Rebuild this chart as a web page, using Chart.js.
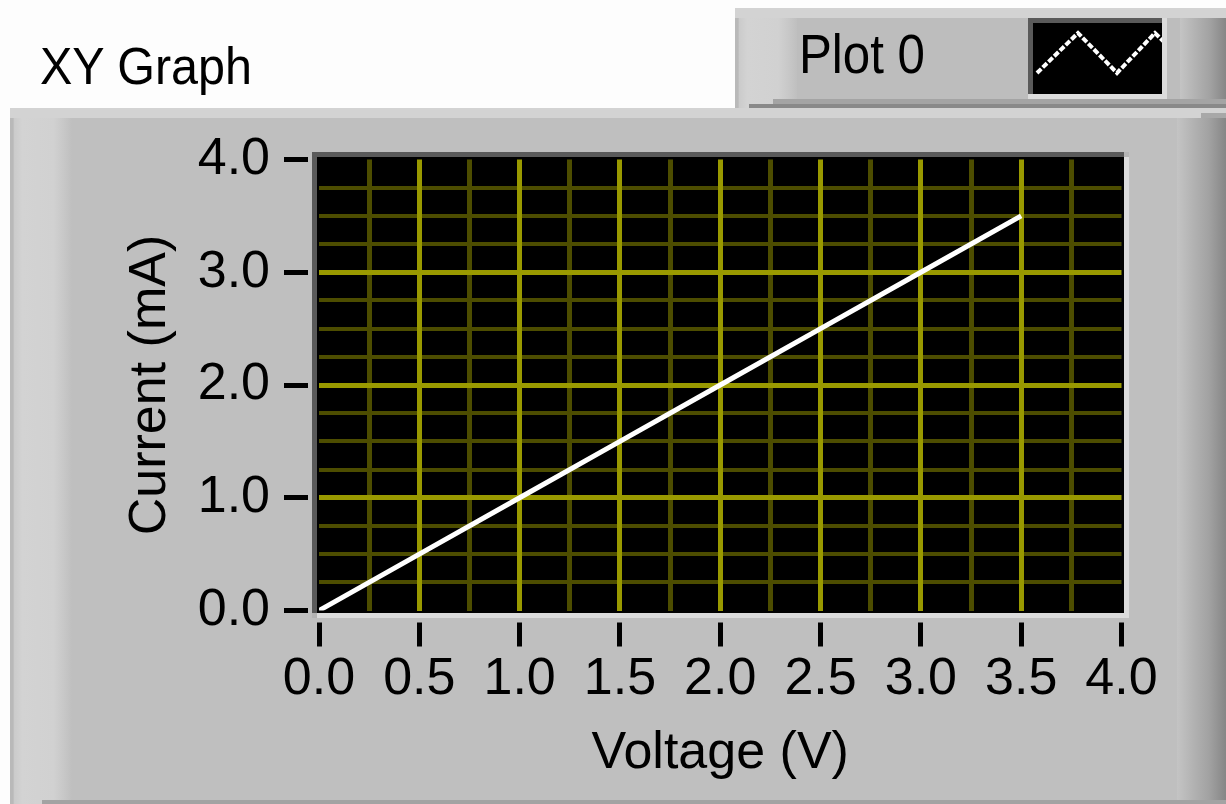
<!DOCTYPE html>
<html><head><meta charset="utf-8">
<script src="https://cdn.jsdelivr.net/npm/chart.js@4.4.0/dist/chart.umd.min.js"></script>
<style>
html,body{margin:0;padding:0;width:1226px;height:804px;overflow:hidden;background:#fdfdfd;}
#bg{position:absolute;left:0;top:0;}
#c{position:absolute;left:0;top:0;}
</style></head><body>
<svg id="bg" width="1226" height="804" xmlns="http://www.w3.org/2000/svg">
  <defs>
    <linearGradient id="lg" x1="0" x2="1" y1="0" y2="0">
      <stop offset="0" stop-color="#b9b9b9"/><stop offset="0.05" stop-color="#b9b9b9"/>
      <stop offset="0.07" stop-color="#cbcbcb"/><stop offset="0.2" stop-color="#d3d3d3"/>
      <stop offset="0.7" stop-color="#d1d1d1"/><stop offset="0.86" stop-color="#c8c8c8"/>
      <stop offset="1" stop-color="#bfbfbf"/>
    </linearGradient>
    <linearGradient id="rg" x1="0" x2="1" y1="0" y2="0">
      <stop offset="0" stop-color="#c4c4c4"/><stop offset="0.3" stop-color="#b4b4b4"/>
      <stop offset="0.65" stop-color="#a2a2a2"/><stop offset="1" stop-color="#868686"/>
    </linearGradient>
    <clipPath id="sw"><rect x="1033" y="23" width="129" height="71"/></clipPath>
  </defs>
  <!-- legend box -->
  <rect x="735" y="8" width="491" height="100" fill="#bdbdbd"/>
  <rect x="735" y="8" width="62" height="100" fill="url(#lg)"/>
  <rect x="1180" y="13" width="46" height="95" fill="url(#rg)"/>
  <rect x="735" y="8" width="491" height="10" fill="#d3d3d3"/>
  <rect x="773" y="99" width="453" height="5" fill="#a4a4a4"/>
  <rect x="749" y="104" width="477" height="4" fill="#898989"/>
  <rect x="1028" y="18" width="139" height="81" fill="#dcdcdc"/>
  <rect x="1028" y="18" width="134" height="76" fill="#5a5a5a"/>
  <rect x="1033" y="23" width="129" height="71" fill="#000"/>
  <polyline clip-path="url(#sw)" points="1037,73 1078,33 1117,73 1155,33 1170,48" fill="none" stroke="#fff" stroke-width="4" stroke-dasharray="6 2"/>
  <text id="legendText" x="799" y="73" font-family="'Liberation Sans', Arial, sans-serif" font-size="55" fill="#000" textLength="126" lengthAdjust="spacingAndGlyphs"></text>
  <!-- main panel -->
  <rect x="10" y="108" width="1216" height="696" fill="#bfbfbf"/>
  <rect x="10" y="108" width="62" height="696" fill="url(#lg)"/>
  <rect x="1177" y="118" width="49" height="686" fill="url(#rg)"/>
  <rect x="10" y="108" width="1216" height="10" fill="#d3d3d3"/>
  <rect x="1201" y="113" width="25" height="5" fill="#a8a8a8"/>
  <rect x="42" y="800" width="1184" height="4" fill="#a3a3a3"/>
  <text id="titleText" x="40" y="84" font-family="'Liberation Sans', Arial, sans-serif" font-size="52" fill="#000" textLength="212" lengthAdjust="spacingAndGlyphs"></text>
</svg>
<canvas id="c" width="1226" height="804"></canvas>
<script>
// ---- data ----
const voltage = [0.0, 0.5, 1.0, 1.5, 2.0, 2.5, 3.0, 3.5];
const current = [0.0, 0.5, 1.0, 1.5, 2.0, 2.5, 3.0, 3.5];
const xTickLabels = ['0.0', '0.5', '1.0', '1.5', '2.0', '2.5', '3.0', '3.5', '4.0'];
const yTickLabels = ['0.0', '1.0', '2.0', '3.0', '4.0'];
const seriesName = 'Plot 0';
const chartTitle = 'XY Graph';
const xTitle = 'Voltage (V)';
const yTitle = 'Current (mA)';

document.getElementById('titleText').textContent = chartTitle;
document.getElementById('legendText').textContent = seriesName;

const FONT = "'Liberation Sans', Arial, sans-serif";
const BRIGHT = '#999900', DARK = '#4d4d00', NONE = 'rgba(0,0,0,0)';
const X_MIN = 0, X_MAX = 4, Y_MIN = 0, Y_MAX = 4;
const near = (a, b) => Math.abs(a - b) < 1e-9;
const isEdge = (v, lo, hi) => near(v, lo) || near(v, hi);
const isMult = (v, s) => near(v / s, Math.round(v / s));

const frame = {
  id: 'frame',
  beforeDraw(chart) {
    const {ctx, chartArea: a} = chart;
    const L = a.left - 2, R = a.right + 2.5, T = a.top - 2.5, B = a.bottom + 2.5;
    ctx.save();
    ctx.fillStyle = '#5a5a5a';
    ctx.fillRect(L - 5, T - 5, R - L + 5, 5);
    ctx.fillRect(L - 5, T, 5, B - T);
    ctx.fillStyle = '#dcdcdc';
    ctx.fillRect(L, B, R - L + 5, 5);
    ctx.fillRect(R, T, 5, B - T);
    ctx.fillStyle = '#b4b4b4';
    ctx.fillRect(L - 5, B, 5, 5);
    ctx.fillRect(R, T - 5, 5, 5);
    ctx.fillStyle = '#000';
    ctx.fillRect(L, T, R - L, B - T);
    ctx.restore();
  },
  afterDraw(chart) {
    const {ctx, chartArea: a} = chart;
    const xs = chart.scales.xMaj, ys = chart.scales.yMaj;
    ctx.save();
    ctx.fillStyle = '#000';
    xs.ticks.forEach(t => {
      const px = xs.getPixelForValue(t.value);
      ctx.fillRect(Math.round(px - 2.5), a.bottom + 12, 5, 24);
    });
    ys.ticks.forEach(t => {
      const py = ys.getPixelForValue(t.value);
      ctx.fillRect(a.left - 35, Math.round(py - 2.5), 24, 5);
    });
    ctx.restore();
  }
};

new Chart(document.getElementById('c').getContext('2d'), {
  type: 'scatter',
  data: {
    datasets: [{
      label: seriesName,
      data: voltage.map((v, i) => ({x: v, y: current[i]})),
      showLine: true,
      borderColor: '#ffffff',
      backgroundColor: '#ffffff',
      borderWidth: 5,
      pointRadius: 0,
      pointHoverRadius: 0,
      tension: 0,
      fill: false
    }]
  },
  options: {
    responsive: false,
    animation: false,
    devicePixelRatio: 1,
    events: [],
    layout: {padding: {left: 0, top: 159.5, right: 104.5, bottom: 0}},
    plugins: {legend: {display: false}, tooltip: {enabled: false}},
    scales: {
      x: {
        type: 'linear', position: 'bottom', min: X_MIN, max: X_MAX,
        afterFit: s => { s.height = 193.5; },
        ticks: {
          stepSize: 0.25, autoSkip: false, maxRotation: 0, minRotation: 0, padding: 38,
          color: '#000', font: {family: FONT, size: 52},
          callback: v => isMult(v, 0.5) ? xTickLabels[Math.round(v / 0.5)] : ''
        },
        grid: {
          z: -2, drawTicks: false, lineWidth: 5,
          color: c => (isEdge(c.tick.value, X_MIN, X_MAX) || isMult(c.tick.value, 0.5)) ? NONE : DARK
        },
        border: {display: false},
        title: {display: true, text: xTitle, color: '#000', font: {family: FONT, size: 52}, padding: {top: 0, bottom: 19}}
      },
      y: {
        type: 'linear', position: 'left', min: Y_MIN, max: Y_MAX,
        afterFit: s => { s.width = 319; },
        ticks: {
          stepSize: 0.25, autoSkip: false, padding: 49,
          color: '#000', font: {family: FONT, size: 52},
          callback: v => isMult(v, 1) ? yTickLabels[Math.round(v)] : ''
        },
        grid: {
          z: -2, drawTicks: false, lineWidth: 4,
          color: c => (isEdge(c.tick.value, Y_MIN, Y_MAX) || isMult(c.tick.value, 1)) ? NONE : DARK
        },
        border: {display: false},
        title: {display: true, text: yTitle, color: '#000', font: {family: FONT, size: 52}, padding: {top: 119, bottom: 0}}
      },
      xMaj: {
        type: 'linear', position: 'bottom', min: X_MIN, max: X_MAX,
        afterFit: s => { s.height = 0; },
        ticks: {display: false, stepSize: 0.5, autoSkip: false},
        grid: {
          z: -1, drawTicks: false, lineWidth: 5,
          color: c => isEdge(c.tick.value, X_MIN, X_MAX) ? NONE : BRIGHT
        },
        border: {display: false}
      },
      yMaj: {
        type: 'linear', position: 'left', min: Y_MIN, max: Y_MAX,
        afterFit: s => { s.width = 0; },
        ticks: {display: false, stepSize: 1, autoSkip: false},
        grid: {
          z: -1, drawTicks: false, lineWidth: 5,
          color: c => isEdge(c.tick.value, Y_MIN, Y_MAX) ? NONE : BRIGHT
        },
        border: {display: false}
      }
    }
  },
  plugins: [frame]
});
</script>
</body></html>
